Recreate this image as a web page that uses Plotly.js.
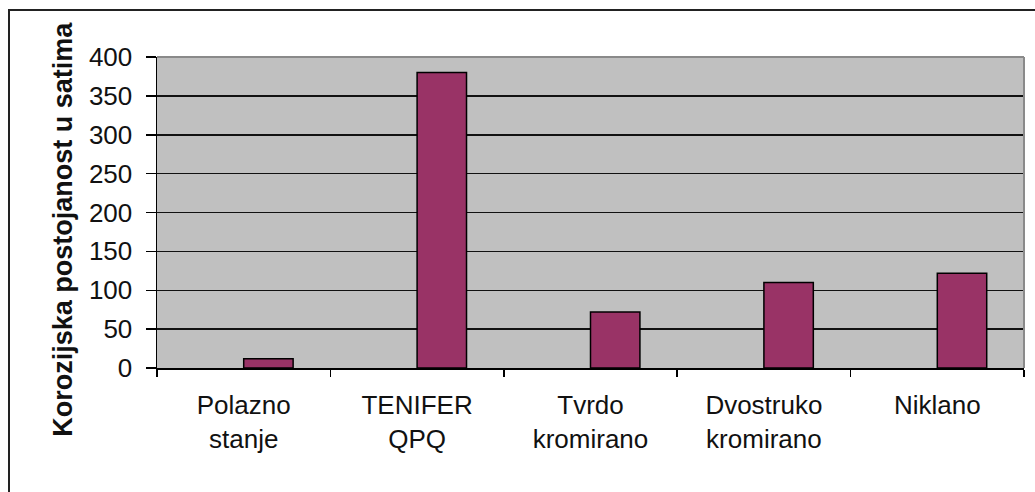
<!DOCTYPE html>
<html>
<head>
<meta charset="utf-8">
<script src="https://cdn.plot.ly/plotly-3.0.1.min.js"></script>
<style>
  html, body { margin: 0; padding: 0; background: #ffffff; overflow: hidden; }
  #wrap { position: relative; width: 1035px; height: 492px; overflow: hidden; }
  #chart { width: 1035px; height: 492px; }
  #frame { position: absolute; left: 8px; top: 9px; width: 1100px; height: 600px;
           border: 2px solid #222222; pointer-events: none; box-sizing: border-box; }
</style>
</head>
<body>
<div id="wrap">
  <div id="chart"></div>
  <div id="frame"></div>
</div>
<script>
// ---- data ----
const categories = ["Polazno stanje", "TENIFER QPQ", "Tvrdo kromirano", "Dvostruko kromirano", "Niklano"];
const tickLabels = ["Polazno<br>stanje", "TENIFER<br>QPQ", "Tvrdo<br>kromirano", "Dvostruko<br>kromirano", "Niklano"];
const hours = [12, 380, 72, 110, 122];
const yTickValues = [0, 50, 100, 150, 200, 250, 300, 350, 400];
const yTitle = "Korozijska postojanost u satima";

const FONT = "Liberation Sans, Arial, Helvetica, sans-serif";

const trace = {
  type: "bar",
  x: categories,
  y: hours,
  width: 0.285,
  offset: 0,
  marker: { color: "#993366", line: { color: "#000000", width: 1.5 } },
  hoverinfo: "x+y"
};

const layout = {
  width: 1035,
  height: 492,
  margin: { l: 157, r: 11, t: 57, b: 124 },
  paper_bgcolor: "#ffffff",
  plot_bgcolor: "#C0C0C0",
  showlegend: false,
  bargap: 0,
  font: { family: FONT, size: 26, color: "#111111" },
  xaxis: {
    type: "category",
    tickmode: "array",
    tickvals: categories,
    ticktext: tickLabels,
    tickson: "boundaries",
    ticks: "outside",
    ticklen: 7,
    tickwidth: 1.5,
    tickcolor: "#000000",
    ticklabelstandoff: 13,
    showline: true,
    linecolor: "#000000",
    linewidth: 1.5,
    showgrid: false,
    zeroline: false,
    tickfont: { family: FONT, size: 26, color: "#111111" },
    range: [-0.5, 4.5],
    fixedrange: true
  },
  yaxis: {
    range: [0, 400],
    tickmode: "array",
    tickvals: yTickValues,
    ticks: "outside",
    ticklen: 10,
    tickwidth: 1.5,
    tickcolor: "#000000",
    ticklabelstandoff: 8,
    showline: true,
    linecolor: "#000000",
    linewidth: 1.5,
    showgrid: true,
    gridcolor: "#111111",
    gridwidth: 1.5,
    zeroline: false,
    tickfont: { family: FONT, size: 26, color: "#111111" },
    fixedrange: true
  },
  annotations: [
    { text: yTitle, xref: "paper", yref: "paper",
      x: -0.1084, y: 0.4447, xanchor: "center", yanchor: "middle",
      textangle: -90, showarrow: false,
      font: { family: FONT, size: 27, color: "#111111", weight: "bold" } }
  ],
  shapes: [
    // grey plot-area border on top and right
    { type: "line", xref: "paper", yref: "paper", x0: 0, x1: 1, y0: 1, y1: 1,
      line: { color: "#8a8a8a", width: 2 }, layer: "above" },
    { type: "line", xref: "paper", yref: "paper", x0: 1, x1: 1, y0: 0, y1: 1,
      line: { color: "#8a8a8a", width: 2 }, layer: "above" }
  ]
};

Plotly.newPlot("chart", [trace], layout, { displayModeBar: false, staticPlot: true });
</script>
</body>
</html>
